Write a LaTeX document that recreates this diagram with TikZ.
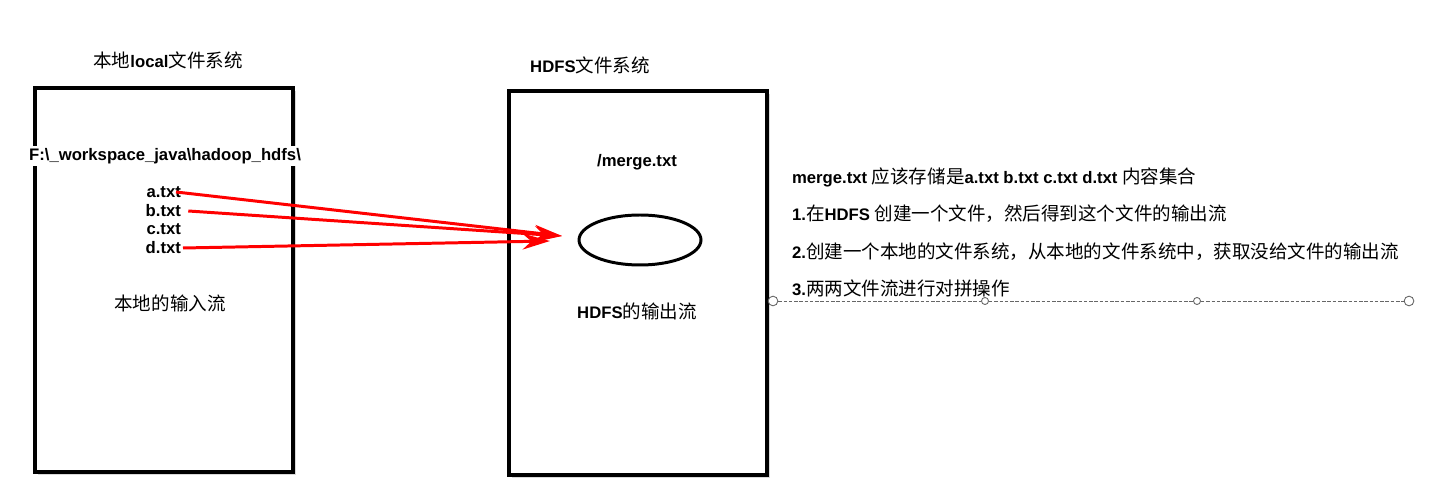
\documentclass[tikz,border=0pt]{standalone}
\usepackage{fontspec}
\setmainfont{Liberation Sans}
\newfontfamily\cjk{Noto Sans CJK SC}[Scale=1.11]
\usetikzlibrary{arrows.meta,shadows,shapes.geometric}
\newcommand{\zh}[1]{{\cjk\mdseries #1}}

\begin{document}
\begin{tikzpicture}[
        x=0.02cm, y=-0.02cm,
        fsbox/.style={rectangle, draw, fill=white, line width=1.8pt, minimum width=5.16cm, minimum height=7.68cm,
            drop shadow={opacity=0.3, shadow xshift=1.5pt, shadow yshift=-1.5pt}},
        txt/.style={font=\fontsize{9.5}{11}\selectfont\bfseries, inner sep=1pt},
        fname/.style={txt, anchor=east},
        note/.style={txt, anchor=west},
        stream/.style={red, line width=1.7pt, -{Stealth[length=5.5mm, width=3.2mm]}},
        handle/.style={circle, draw=gray!80!black, fill=white, line width=0.5pt, inner sep=0pt, minimum size=#1},
    ]
        \useasboundingbox (0,0) rectangle (1435,502);

        % Local file system
        \node[txt] (loctitle) at (168,60) {\zh{本地}local\zh{文件系统}};
        \node[fsbox] (local) at (164,280) {};
        \node[txt, fill=white] (path) at (165,156) {F:\textbackslash\_workspace\_java\textbackslash hadoop\_hdfs\textbackslash};
        \node[fname] (fa) at (183,192) {a.txt};
        \node[fname] (fb) at (183,211) {b.txt};
        \node[fname] (fc) at (183,229) {c.txt};
        \node[fname] (fd) at (183,248) {d.txt};
        \node[txt] (instream) at (170,303) {\zh{本地的输入流}};

        % HDFS file system
        \node[txt] (hdfstitle) at (590,65) {HDFS\zh{文件系统}};
        \node[fsbox] (hdfs) at (638,283) {};
        \node[txt] (merge) at (637,162) {/merge.txt};
        \node[ellipse, draw, line width=1.7pt, minimum width=2.44cm, minimum height=1cm] (outstream) at (640,240) {};
        \node[txt] (outlabel) at (637,311) {HDFS\zh{的输出流}};

        % Notes
        \node[note] (n0) at (790,177) {merge.txt \zh{应该存储是}a.txt b.txt c.txt d.txt \zh{内容集合}};
        \node[note] (n1) at (790,214) {1.\zh{在}HDFS \zh{创建一个文件，然后得到这个文件的输出流}};
        \node[note] (n2) at (790,252) {2.\zh{创建一个本地的文件系统，从本地的文件系统中，获取没给文件的输出流}};
        \node[note] (n3) at (790,288) {3.\zh{两两文件流进行对拼操作}};

        % Selection handles
        \node[handle=5.5pt] (h1) at (773,301) {};
        \node[handle=4pt] (h2) at (985,301) {};
        \node[handle=4pt] (h3) at (1197,301) {};
        \node[handle=5.5pt] (h4) at (1409,301) {};
        \draw[gray!80!black, line width=0.5pt, dash pattern=on 2pt off 1pt] (h1) -- (h2) -- (h3) -- (h4);

        % Arrows
        \coordinate (inab) at (562,236);
        \coordinate (ind) at (550,241);
        \draw[stream] ([xshift=-4pt]fa.east) -- (inab);
        \draw[stream] ([xshift=3pt]fb.east) -- (inab);
        \draw[stream] (fd.east) -- (ind);

    \end{tikzpicture}
\end{document}
